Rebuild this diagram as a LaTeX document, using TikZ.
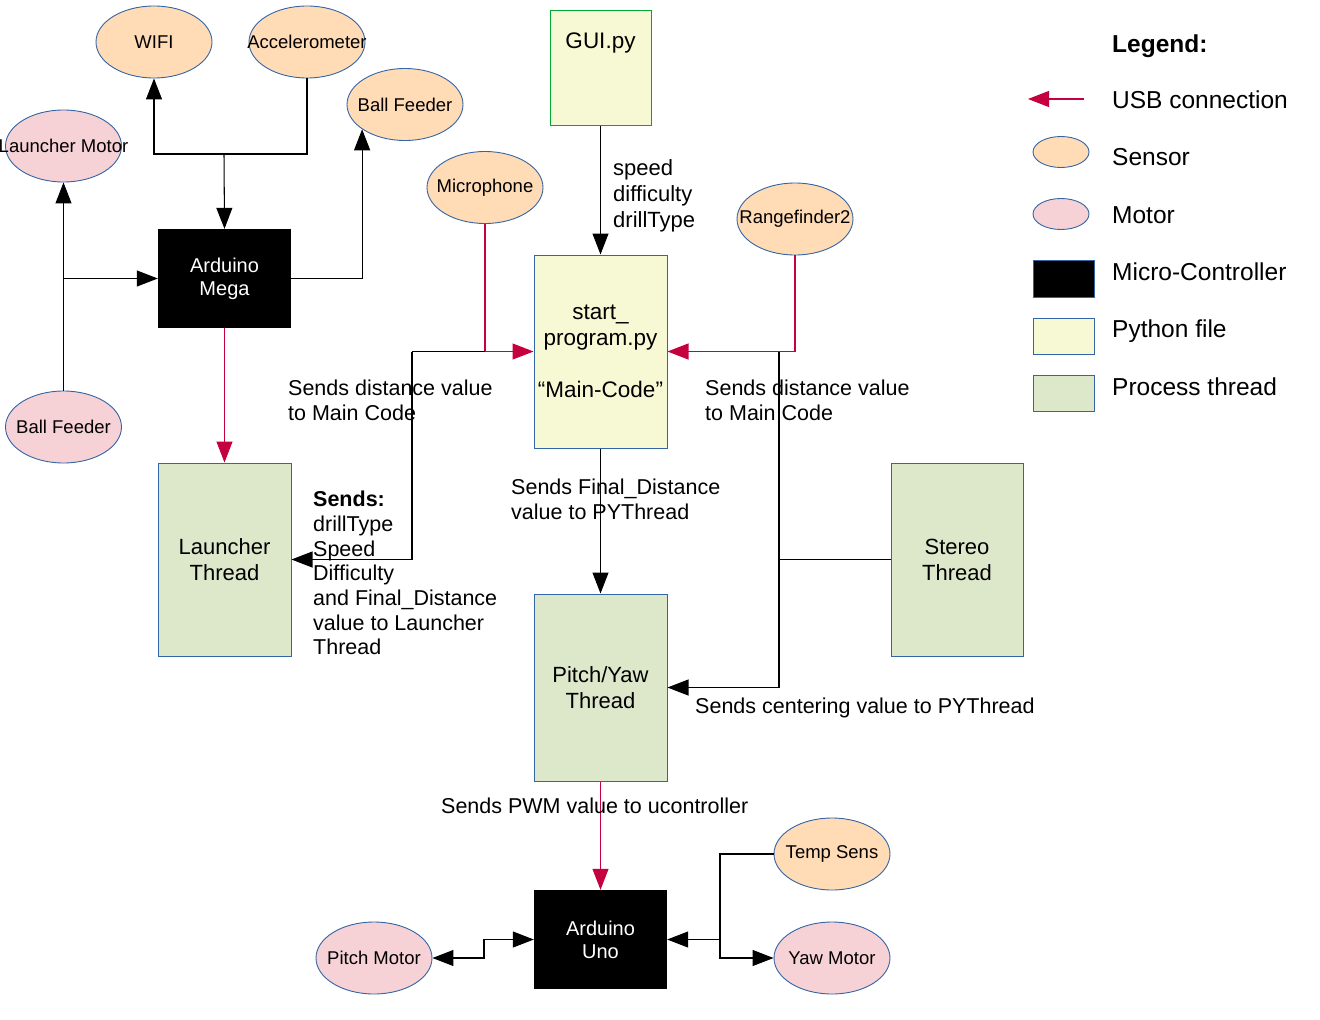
\documentclass[tikz,border=0pt]{standalone}
\usepackage{fontspec}
\setmainfont{Liberation Sans}
\usetikzlibrary{shapes.geometric,arrows.meta,calc}

\definecolor{sensorfill}{HTML}{FFDBB6}
\definecolor{motorfill}{HTML}{F6D1D6}
\definecolor{pyfill}{HTML}{F6F9D4}
\definecolor{threadfill}{HTML}{DDE8CB}
\definecolor{bordblue}{HTML}{3465A4}
\definecolor{usbred}{HTML}{C5003E}
\definecolor{guigreen}{HTML}{00A933}

\begin{document}
\begin{tikzpicture}[x=1pt,y=-1pt,
  ovalbase/.style={ellipse, draw=bordblue, line width=0.9pt, inner sep=0,
    minimum width=116, minimum height=72,
    font=\fontsize{18.5}{22}\selectfont,
    execute at begin node={\hbox to 0pt\bgroup\hss},
    execute at end node={\hss\egroup}},
  sensor/.style={ovalbase, fill=sensorfill},
  motor/.style={ovalbase, fill=motorfill},
  mcu/.style={rectangle, fill=black, text=white, inner sep=0, align=center,
    minimum width=133, minimum height=99, font=\fontsize{20}{23}\selectfont},
  pyfile/.style={rectangle, draw=bordblue, fill=pyfill, line width=1pt,
    inner sep=0, align=center, minimum width=133,
    font=\fontsize{22.5}{26}\selectfont},
  thread/.style={rectangle, draw=bordblue, fill=threadfill, line width=1pt,
    inner sep=0, align=center, minimum width=133,
    font=\fontsize{22}{26}\selectfont},
  lbl/.style={inner sep=0, anchor=north west, align=left,
    font=\fontsize{21.5}{25}\selectfont},
  legtext/.style={inner sep=0, anchor=base west, font=\fontsize{24.5}{28}\selectfont},
  wire/.style={line width=1.05pt},
  arr/.style={wire, -{Triangle[length=21pt,width=16pt]}},
  dblarr/.style={wire, {Triangle[length=21pt,width=16pt]}-{Triangle[length=21pt,width=16pt]}},
  usb/.style={wire, draw=usbred, -{Triangle[length=21pt,width=16pt]}},
]
\useasboundingbox (0,0) rectangle (1320,1020);

% ---------- sensors and motors ----------
\node[sensor] (wifi)   at (154,42)    {WIFI};
\node[sensor] (acc)    at (307,42)    {Accelerometer};
\node[sensor] (bfs)    at (405,104.5) {Ball Feeder};
\node[motor]  (lmotor) at (63.5,146)  {Launcher Motor};
\node[motor]  (bfm)    at (63.5,427)  {Ball Feeder};
\node[sensor] (mic)    at (485,187.5) {Microphone};
\node[sensor] (range)  at (795,219)   {Rangefinder2};
\node[sensor] (temp)   at (832,854)   {Temp Sens};
\node[motor]  (yaw)    at (832,958)   {Yaw Motor};
\node[motor]  (pitch)  at (374,958)   {Pitch Motor};

% ---------- controllers, files and threads ----------
\node[mcu] (mega) at (224.5,278.5) {Arduino\\Mega};
\node[mcu] (uno)  at (600.5,939.5) {Arduino\\Uno};

\node[pyfile, draw=guigreen, minimum width=101, minimum height=115] (gui) at (600.5,67.5) {};
\node[inner sep=0, font=\fontsize{22.5}{26}\selectfont] (guitext) at (600.5,43) {GUI.py};
\node[pyfile, minimum height=193] (start) at (600.5,351.5)
  {start\_\\program.py\\[26pt]“Main-Code”};

\node[thread, minimum height=193] (launcher) at (224.5,559.5) {Launcher\\Thread};
\node[thread, minimum height=187] (pyt) at (600.5,687.5) {Pitch/Yaw\\Thread};
\node[thread, minimum width=132, minimum height=193] (stereo) at (957,559.5) {Stereo\\Thread};

% ---------- junction points ----------
\coordinate (j1) at (224,154);
\coordinate (j2) at (bfm.north |- mega.west);
\coordinate (j3) at (mic.south |- start.west);
\coordinate (j4) at (412,351.5);
\coordinate (j5) at (779,351.5);
\coordinate (j6) at (j5 |- stereo.west);
\coordinate (j7) at (484,939.5);
\coordinate (j8) at (720,939.5);

% ---------- connectors around the Arduino Mega ----------
\draw[wire] (acc.south) |- (j1);
\draw[arr] (j1) -| (wifi.south);
\draw[arr] (j1) -- (mega.north);
\draw[arr] (bfm.north) -- (j2) -- (mega.west);
\draw[arr] (j2) -- (lmotor.south);
\draw[arr] (mega.east) -| (bfs.210.56);
\draw[usb] (mega.south) -- (launcher.north);

% ---------- main program ----------
\draw[arr] (gui.south) -- (start.north);
\draw[usb] (mic.south) |- (start.west);
\draw[wire] (j3) -- (j4);
\draw[arr] (j4) |- (launcher.east);
\draw[usb] (range.south) |- (start.east);
\draw[arr] (j5) |- (pyt.east);
\draw[wire] (stereo.west) -- (j6);
\draw[arr] (start.south) -- (pyt.north);
\draw[usb] (pyt.south) -- (uno.north);

% ---------- Arduino Uno peripherals ----------
\draw[dblarr] (pitch.east) -| (j7) -- (uno.west);
\draw[wire] (temp.west) -| (j8);
\draw[arr] (j8) -- (uno.east);
\draw[arr] (j8) |- (yaw.west);

% ---------- connector labels ----------
\node[lbl, font=\fontsize{22}{26}\selectfont] (lblgui) at (613,159) {speed\\difficulty\\drillType};
\node[lbl] (lblmicl) at (288,380) {Sends distance value\\to Main Code};
\node[lbl] (lblmicr) at (705,380) {Sends distance value\\to Main Code};
\node[lbl, font=\fontsize{21.5}{24.7}\selectfont] (lblsends) at (313,491)
  {\textbf{Sends:}\\drillType\\Speed\\Difficulty\\and Final\_Distance\\value to Launcher\\Thread};
\node[lbl] (lblfinal) at (511,479) {Sends Final\_Distance\\value to PYThread};
\node[lbl] (lblcenter) at (695,698) {Sends centering value to PYThread};
\node[lbl] (lblpwm) at (441,798) {Sends PWM value to ucontroller};

% ---------- legend ----------
\node[legtext, font=\bfseries\fontsize{24.5}{28}\selectfont] (legtitle) at (1112,52) {Legend:};
\coordinate (usbA) at (1084,99);
\coordinate (usbB) at (1028,99);
\draw[usb] (usbA) -- (usbB);
\node[legtext] (legusb) at (1112,108) {USB connection};
\node[sensor, minimum width=56, minimum height=31] (legsensor) at (1061,152) {};
\node[legtext] (legsensortext) at (1112,165) {Sensor};
\node[motor, minimum width=56, minimum height=31] (legmotor) at (1061,214) {};
\node[legtext] (legmotortext) at (1112,223) {Motor};
\node[rectangle, draw=bordblue, fill=black, line width=1pt, minimum width=61, minimum height=37, inner sep=0] (legmcu) at (1063.5,278.5) {};
\node[legtext] (legmcutext) at (1112,280) {Micro-Controller};
\node[rectangle, draw=bordblue, fill=pyfill, line width=1pt, minimum width=61, minimum height=36, inner sep=0] (legpy) at (1063.5,336) {};
\node[legtext] (legpytext) at (1112,337) {Python file};
\node[rectangle, draw=bordblue, fill=threadfill, line width=1pt, minimum width=61, minimum height=36, inner sep=0] (legthread) at (1063.5,393) {};
\node[legtext] (legthreadtext) at (1112,395) {Process thread};
\end{tikzpicture}
\end{document}
